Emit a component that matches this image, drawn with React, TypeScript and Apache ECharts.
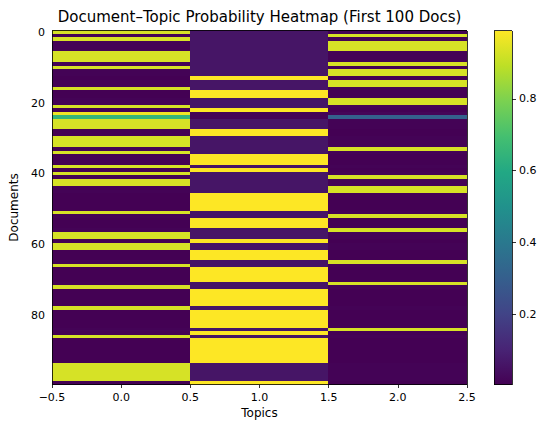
import { useEffect, useRef } from "react";
import * as echarts from "echarts";

// ---- data ----
const topics = ["0", "1", "2"];
const docIds: string[] = Array.from({ length: 100 }, (_, i) => String(i));

const topic0 = [
  0.93, 0.01, 0.93, 0.01, 0.01, 0.01, 0.93, 0.93, 0.93, 0.01,
  0.93, 0.01, 0.01, 0.005, 0.01, 0.01, 0.93, 0.005, 0.005, 0.01,
  0.01, 0.93, 0.005, 0.97, 0.65, 0.93, 0.93, 0.93, 0.005, 0.005,
  0.93, 0.93, 0.93, 0.01, 0.93, 0.005, 0.005, 0.005, 0.93, 0.005,
  0.93, 0.01, 0.93, 0.93, 0.01, 0.01, 0.005, 0.005, 0.005, 0.005,
  0.005, 0.93, 0.01, 0.005, 0.005, 0.005, 0.01, 0.93, 0.93, 0.005,
  0.93, 0.93, 0.005, 0.005, 0.005, 0.01, 0.93, 0.005, 0.005, 0.005,
  0.005, 0.01, 0.93, 0.005, 0.005, 0.005, 0.005, 0.005, 0.93, 0.005,
  0.005, 0.005, 0.005, 0.005, 0.01, 0.005, 0.93, 0.005, 0.005, 0.005,
  0.005, 0.005, 0.005, 0.005, 0.93, 0.93, 0.93, 0.93, 0.93, 0.005,
];
const topic1 = [
  0.06, 0.06, 0.06, 0.06, 0.06, 0.06, 0.06, 0.06, 0.06, 0.06,
  0.06, 0.06, 0.06, 0.99, 0.06, 0.06, 0.06, 0.99, 0.99, 0.06,
  0.06, 0.06, 0.99, 0.01, 0.01, 0.06, 0.06, 0.06, 0.99, 0.99,
  0.06, 0.06, 0.06, 0.06, 0.06, 0.99, 0.99, 0.99, 0.06, 0.99,
  0.06, 0.06, 0.06, 0.06, 0.06, 0.06, 0.99, 0.99, 0.99, 0.99,
  0.99, 0.06, 0.06, 0.99, 0.99, 0.99, 0.06, 0.06, 0.06, 0.99,
  0.06, 0.06, 0.99, 0.99, 0.99, 0.06, 0.06, 0.99, 0.99, 0.99,
  0.99, 0.06, 0.06, 0.99, 0.99, 0.99, 0.99, 0.99, 0.06, 0.99,
  0.99, 0.99, 0.99, 0.99, 0.06, 0.99, 0.06, 0.99, 0.99, 0.99,
  0.99, 0.99, 0.99, 0.99, 0.06, 0.06, 0.06, 0.06, 0.06, 0.99,
];
const topic2 = [
  0.01, 0.93, 0.01, 0.93, 0.93, 0.93, 0.01, 0.01, 0.01, 0.93,
  0.01, 0.93, 0.93, 0.005, 0.93, 0.93, 0.01, 0.005, 0.005, 0.93,
  0.93, 0.01, 0.005, 0.02, 0.31, 0.01, 0.01, 0.01, 0.005, 0.005,
  0.01, 0.01, 0.01, 0.93, 0.01, 0.005, 0.005, 0.005, 0.01, 0.005,
  0.01, 0.93, 0.01, 0.01, 0.93, 0.93, 0.005, 0.005, 0.005, 0.005,
  0.005, 0.01, 0.93, 0.005, 0.005, 0.005, 0.93, 0.01, 0.01, 0.005,
  0.01, 0.01, 0.005, 0.005, 0.005, 0.93, 0.01, 0.005, 0.005, 0.005,
  0.005, 0.93, 0.01, 0.005, 0.005, 0.005, 0.005, 0.005, 0.01, 0.005,
  0.005, 0.005, 0.005, 0.005, 0.93, 0.005, 0.01, 0.005, 0.005, 0.005,
  0.005, 0.005, 0.005, 0.005, 0.01, 0.01, 0.01, 0.01, 0.01, 0.005,
];
const yTickDocs = [0, 20, 40, 60, 80];
const colorbarTicks = [0.2, 0.4, 0.6, 0.8];

const viridis = [
  "#440154", "#482475", "#414487", "#355f8d", "#2a788e", "#21918c",
  "#22a884", "#44bf70", "#7ad151", "#bddf26", "#fde725",
];

const FONT = "DejaVu Sans";

export default function App() {
  const ref = useRef<HTMLDivElement>(null);
  useEffect(() => {
    if (!ref.current) return;
    const styleEl = document.createElement("style");
    styleEl.textContent = "#root svg path, #root svg rect { shape-rendering: crispEdges; }";
    document.head.appendChild(styleEl);

    const chart = echarts.init(ref.current, null, { renderer: "svg" });
    const cols = [topic0, topic1, topic2];
    const data: [number, number, number][] = [];
    cols.forEach((arr, x) => arr.forEach((v, y) => data.push([x, y, v])));
    const all = cols.flat();
    const vmin = Math.min(...all);
    const vmax = Math.max(...all);

    const L = 52, T = 30.5, W = 415, H = 354;
    const CBX = 494, CBW = 18;
    const tickStyle = { color: "#000", width: 0.8 };
    const minus = (s: string) => s.replace("-", "\u2212");

    chart.setOption({
      animation: false,
      backgroundColor: "#fff",
      textStyle: { fontFamily: FONT },
      grid: [
        { left: L, top: T, width: W, height: H, outerBoundsMode: "none" },
        { left: CBX, top: T, width: CBW, height: H, outerBoundsMode: "none" },
      ],
      xAxis: [
        { type: "category", data: topics, gridIndex: 0, show: false },
        {
          type: "value", gridIndex: 0, min: -0.5, max: 2.5, interval: 0.5,
          position: "bottom",
          axisLine: { show: false },
          axisTick: { show: true, length: 3.5, lineStyle: tickStyle },
          axisLabel: {
            color: "#000", fontSize: 11, margin: 7, fontFamily: FONT,
            formatter: (v: number) => minus(v.toFixed(1)),
          },
          splitLine: { show: false },
          name: "Topics", nameLocation: "middle", nameGap: 22,
          nameTextStyle: { color: "#000", fontSize: 12, fontFamily: FONT },
        },
        { type: "category", data: [""], gridIndex: 1, show: false },
      ],
      yAxis: [
        {
          type: "category", data: docIds, inverse: true, gridIndex: 0,
          axisLine: { show: false },
          axisTick: {
            show: true, alignWithLabel: true, length: 3.5, lineStyle: tickStyle,
            interval: (i: number) => yTickDocs.includes(i),
          },
          axisLabel: {
            color: "#000", fontSize: 11, margin: 7, fontFamily: FONT,
            interval: (i: number) => yTickDocs.includes(i),
          },
          splitLine: { show: false },
          name: "Documents", nameLocation: "middle", nameGap: 30,
          nameTextStyle: { color: "#000", fontSize: 12, fontFamily: FONT },
        },
        {
          type: "value", gridIndex: 1, position: "right", min: vmin, max: vmax,
          axisLine: { show: false },
          axisTick: { show: true, length: 3.5, lineStyle: tickStyle, customValues: colorbarTicks },
          axisLabel: {
            color: "#000", fontSize: 11, margin: 7, fontFamily: FONT,
            customValues: colorbarTicks,
            formatter: (v: number) => v.toFixed(1),
          },
          splitLine: { show: false },
        },
      ],
      visualMap: {
        show: false, type: "continuous", min: vmin, max: vmax, dimension: 2,
        seriesIndex: 0, inRange: { color: viridis },
      },
      series: [
        {
          type: "heatmap", xAxisIndex: 0, yAxisIndex: 0, data,
          itemStyle: { borderWidth: 0 },
          emphasis: { disabled: true },
          silent: true,
        },
      ],
      graphic: [
        {
          type: "text", x: L + W / 2, y: 17, z: 100,
          style: {
            text: "Document\u2013Topic Probability Heatmap (First 100 Docs)",
            fontSize: 15, fontFamily: FONT, fill: "#000",
            align: "center", verticalAlign: "middle",
          },
        },
        {
          type: "rect", z: 100, silent: true,
          shape: { x: L, y: T, width: W, height: H },
          style: { fill: "none", stroke: "#000", lineWidth: 0.8 },
        },
        {
          type: "rect", z: 50, silent: true,
          shape: { x: CBX, y: T, width: CBW, height: H },
          style: {
            fill: new echarts.graphic.LinearGradient(
              0, 1, 0, 0,
              viridis.map((c, i) => ({ offset: i / (viridis.length - 1), color: c }))
            ),
            stroke: "#000", lineWidth: 0.8,
          },
        },
      ],
    });
    return () => {
      chart.dispose();
      styleEl.remove();
    };
  }, []);
  return (
    <div
      ref={ref}
      style={{ position: "fixed", left: 0, top: 0, width: 539, height: 424 }}
    />
  );
}
